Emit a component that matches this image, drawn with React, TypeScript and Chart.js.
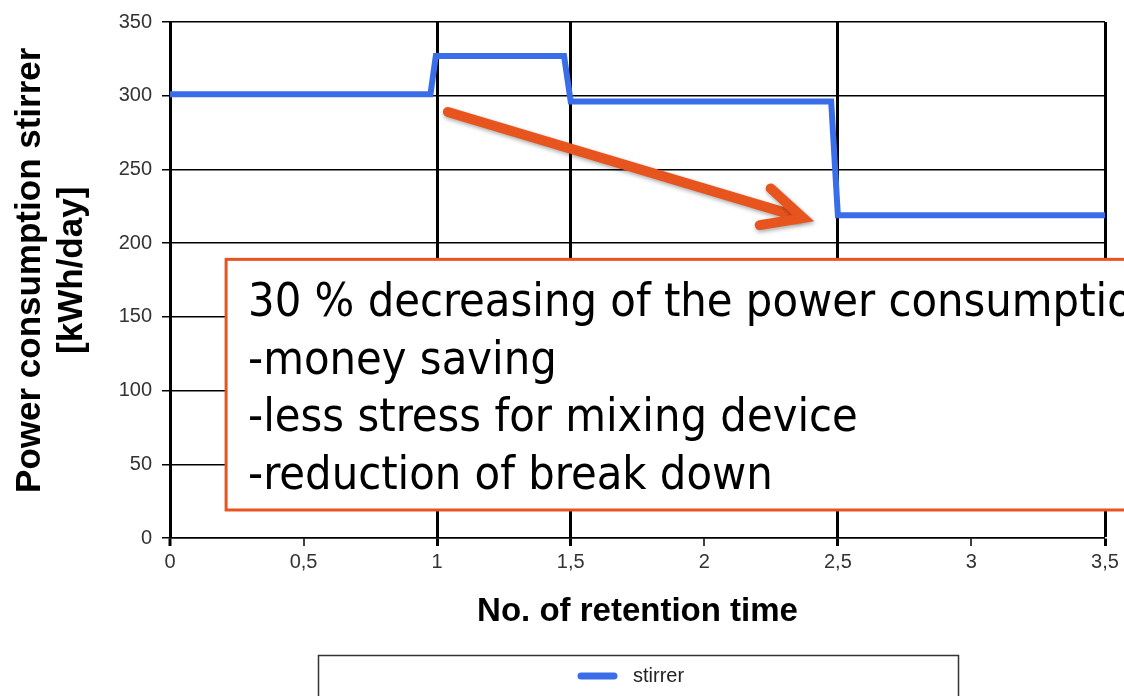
import React, { useEffect, useRef } from "react";
import { Chart, registerables } from "chart.js";

Chart.register(...registerables);

// ---- data ----
const retentionTimes = [0, 0.975, 0.995, 1.475, 1.5, 2.475, 2.5, 3.5];
const stirrerPower = [301, 301, 327, 327, 296, 296, 219, 219];
const seriesName = "stirrer";
const xTickValues = [0, 0.5, 1, 1.5, 2, 2.5, 3, 3.5];
const boldXLines = [0, 1, 1.5, 2.5, 3.5];
const yTitleLines = ["  Power consumption stirrer", "  [kWh/day]"];
const xTitleText = "No. of retention time";
const noteLines = [
  "30 % decreasing of the power consumption",
  "-money saving",
  "-less stress for mixing device",
  "-reduction of break down",
];
// annotation anchors in data units
const arrowFrom = [1.04, 289];
const arrowTo = [2.37, 217];
const noteBox = { x0: 0.21, y0: 189, x1: 4.2, y1: 19 };

const BLUE = "#3a6ee8";
const ORANGE = "#e8541e";

const overlayPlugin = {
  id: "overlay",
  afterDraw(chart: any) {
    const ctx = chart.ctx;
    const xs = chart.scales.x;
    const ys = chart.scales.y;
    ctx.save();
    // arrow
    const ax0 = xs.getPixelForValue(arrowFrom[0]);
    const ay0 = ys.getPixelForValue(arrowFrom[1]);
    const ax1 = xs.getPixelForValue(arrowTo[0]);
    const ay1 = ys.getPixelForValue(arrowTo[1]);
    const ang = Math.atan2(ay1 - ay0, ax1 - ax0);
    const head = 44;
    const spread = 0.45;
    ctx.shadowColor = "rgba(0,0,0,0.35)";
    ctx.shadowBlur = 4;
    ctx.shadowOffsetX = 1;
    ctx.shadowOffsetY = 2;
    ctx.strokeStyle = ORANGE;
    ctx.lineWidth = 10;
    ctx.lineCap = "round";
    ctx.lineJoin = "miter";
    ctx.beginPath();
    ctx.moveTo(ax0, ay0);
    ctx.lineTo(ax1 - 6 * Math.cos(ang), ay1 - 6 * Math.sin(ang));
    ctx.stroke();
    ctx.beginPath();
    ctx.moveTo(ax1 - head * Math.cos(ang - spread), ay1 - head * Math.sin(ang - spread));
    ctx.lineTo(ax1, ay1);
    ctx.lineTo(ax1 - head * Math.cos(ang + spread), ay1 - head * Math.sin(ang + spread));
    ctx.stroke();
    ctx.restore();

    // note box
    ctx.save();
    const bx0 = xs.getPixelForValue(noteBox.x0);
    const by0 = ys.getPixelForValue(noteBox.y0);
    const bx1 = xs.getPixelForValue(noteBox.x1);
    const by1 = ys.getPixelForValue(noteBox.y1);
    ctx.fillStyle = "#ffffff";
    ctx.fillRect(bx0, by0, bx1 - bx0, by1 - by0);
    ctx.strokeStyle = ORANGE;
    ctx.lineWidth = 3;
    ctx.strokeRect(bx0, by0, bx1 - bx0, by1 - by0);
    ctx.fillStyle = "#000";
    ctx.font = '46.5px "DejaVu Sans Condensed", "DejaVu Sans", sans-serif';
    ctx.textBaseline = "alphabetic";
    ctx.textAlign = "left";
    noteLines.forEach((t, i) => {
      ctx.fillText(t, bx0 + 22, by0 + 57 + i * 57.5);
    });
    ctx.restore();

    // legend box
    ctx.save();
    ctx.strokeStyle = "#333";
    ctx.lineWidth = 1.5;
    ctx.strokeRect(318.5, 655.5, 640, 60);
    ctx.strokeStyle = BLUE;
    ctx.lineWidth = 7;
    ctx.lineCap = "round";
    ctx.beginPath();
    ctx.moveTo(581, 676);
    ctx.lineTo(614, 676);
    ctx.stroke();
    ctx.fillStyle = "#222";
    ctx.font = '20px "Liberation Sans", Arial, sans-serif';
    ctx.textBaseline = "middle";
    ctx.textAlign = "left";
    ctx.fillText(seriesName, 633, 676);
    ctx.restore();
  },
};

export default function App() {
  const ref = useRef<HTMLCanvasElement | null>(null);
  useEffect(() => {
    document.body.style.margin = "0";
    const canvas = ref.current;
    if (!canvas) return;
    const chart = new Chart(canvas, {
      type: "line",
      data: {
        datasets: [
          {
            label: seriesName,
            data: retentionTimes.map((x, i) => ({ x, y: stirrerPower[i] })),
            borderColor: BLUE,
            backgroundColor: BLUE,
            borderWidth: 6,
            pointRadius: 0,
            tension: 0,
            fill: false,
          },
        ],
      },
      options: {
        animation: false,
        responsive: false,
        layout: { padding: { top: 20, right: 19, left: 0, bottom: 0 } },
        plugins: { legend: { display: false }, tooltip: { enabled: false } },
        scales: {
          x: {
            type: "linear",
            min: 0,
            max: 3.5,
            afterBuildTicks: (scale: any) => {
              scale.ticks = xTickValues.map((v) => ({ value: v }));
            },
            afterFit: (scale: any) => {
              scale.height = 158;
            },
            ticks: {
              color: "#333",
              font: { family: '"Liberation Sans", Arial, sans-serif', size: 20 },
              padding: 4,
              maxRotation: 0,
              callback: (v: any) => String(v).replace(".", ","),
            },
            grid: {
              color: "#000",
              lineWidth: (c: any) =>
                c.tick && boldXLines.includes(c.tick.value) && c.tick.value !== 0 ? 3 : 0,
              tickWidth: (c: any) =>
                c.tick && boldXLines.includes(c.tick.value) ? 3 : 1.5,
              tickColor: "#000",
              tickLength: 8,
            },
            border: { display: true, color: "#000", width: 1.5 },
            title: {
              display: true,
              text: xTitleText,
              color: "#000",
              font: { family: '"Liberation Sans", Arial, sans-serif', size: 33, weight: "bold" },
              padding: { top: 0, bottom: 64 },
            },
          },
          y: {
            min: 0,
            max: 350,
            afterFit: (scale: any) => {
              scale.width = 170;
            },
            ticks: {
              stepSize: 50,
              color: "#333",
              font: { family: '"Liberation Sans", Arial, sans-serif', size: 20 },
              padding: 10,
            },
            grid: {
              color: "#000",
              lineWidth: 1.5,
              tickLength: 8,
            },
            border: { display: true, color: "#000", width: 3 },
            title: {
              display: true,
              text: yTitleLines,
              color: "#000",
              font: { family: '"Liberation Sans", Arial, sans-serif', size: 35, weight: "bold" },
              padding: { top: 9, bottom: 0 },
            },
          },
        },
      },
      plugins: [overlayPlugin],
    });
    return () => chart.destroy();
  }, []);
  return (
    <div style={{ width: 1124, height: 696, background: "#fff", overflow: "hidden" }}>
      <canvas ref={ref} width={1124} height={696} style={{ display: "block" }} />
    </div>
  );
}
